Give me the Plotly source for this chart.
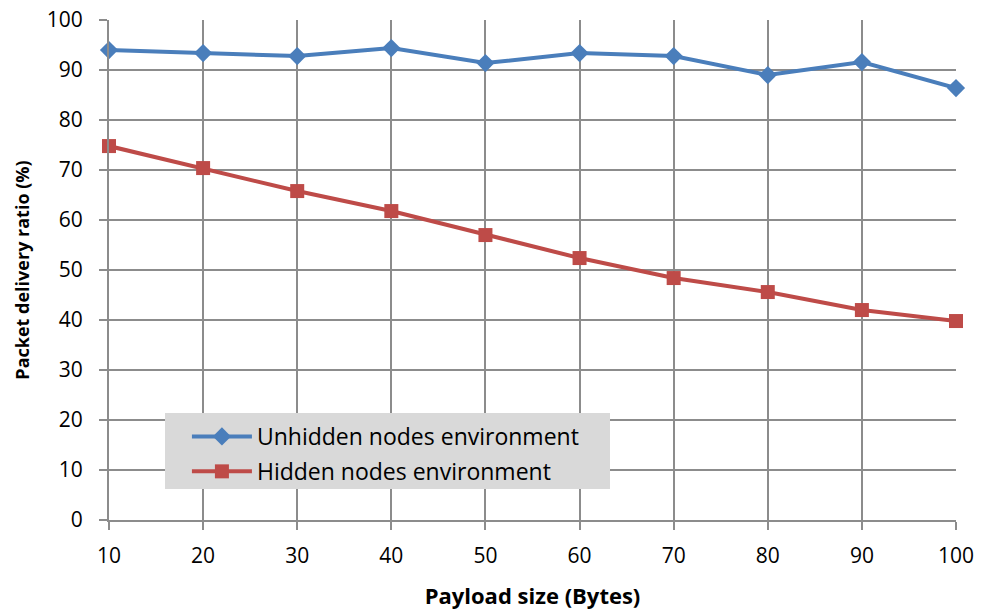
import plotly.graph_objects as go

payload = [10, 20, 30, 40, 50, 60, 70, 80, 90, 100]
unhidden = [94.0, 93.4, 92.8, 94.4, 91.4, 93.4, 92.8, 89.0, 91.6, 86.4]
hidden = [74.8, 70.4, 65.8, 61.8, 57.0, 52.4, 48.4, 45.6, 42.0, 39.8]
y_ticks = [0, 10, 20, 30, 40, 50, 60, 70, 80, 90, 100]

FONT = "Open Sans"
GRID = "#8c8c8c"

fig = go.Figure()
fig.add_trace(go.Scatter(x=payload, y=unhidden, mode="lines+markers",
                         name="Unhidden nodes environment", legendgroup="a",
                         line=dict(color="#4a7ebb", width=4),
                         marker=dict(symbol="diamond", size=14, color="#4a7ebb"),
                         cliponaxis=False))
fig.add_trace(go.Scatter(x=payload, y=hidden, mode="lines+markers",
                         name="Hidden nodes environment", legendgroup="b",
                         line=dict(color="#be4b48", width=4),
                         marker=dict(symbol="square", size=14, color="#be4b48"),
                         cliponaxis=False))

fig.add_shape(type="rect", xref="paper", yref="paper",
              x0=0.0661, x1=0.5915, y0=0.062, y1=0.214,
              fillcolor="#d9d9d9", line=dict(width=0), layer="above")

fig.update_layout(
    width=982, height=611,
    margin=dict(l=109, r=26, t=20, b=91),
    paper_bgcolor="white", plot_bgcolor="white",
    font=dict(family=FONT, color="black", size=18),
    showlegend=True,
    legend=dict(x=0.092, y=0.21, xanchor="left", yanchor="top",
                bgcolor="rgba(0,0,0,0)", font=dict(size=23, family=FONT),
                itemwidth=60, tracegroupgap=2),
    xaxis=dict(range=[10, 100], tickvals=payload, showgrid=True, gridcolor=GRID, gridwidth=2,
               showline=True, linecolor=GRID, linewidth=2, mirror=False,
               ticks="outside", ticklen=8, tickcolor=GRID, tickwidth=2,
               tickfont=dict(size=21), zeroline=False, automargin=False,
               ticklabelstandoff=8,
               title=dict(text="<b>Payload size (Bytes)</b>", font=dict(size=22), standoff=20)),
    yaxis=dict(range=[0, 100.02], tickvals=y_ticks, showgrid=True, gridcolor=GRID, gridwidth=2,
               showline=True, linecolor=GRID, linewidth=2,
               ticks="outside", ticklen=8, tickcolor=GRID, tickwidth=2,
               tickfont=dict(size=21), zeroline=False, automargin=False,
               ticklabelstandoff=12, ticklabeloverflow="allow",
               title=dict(text="<b>Packet delivery ratio (%)</b>", font=dict(size=18), standoff=12)),
)

fig.write_html("out.html", config={"displayModeBar": False},
               post_script="document.body.style.margin='0px';")
